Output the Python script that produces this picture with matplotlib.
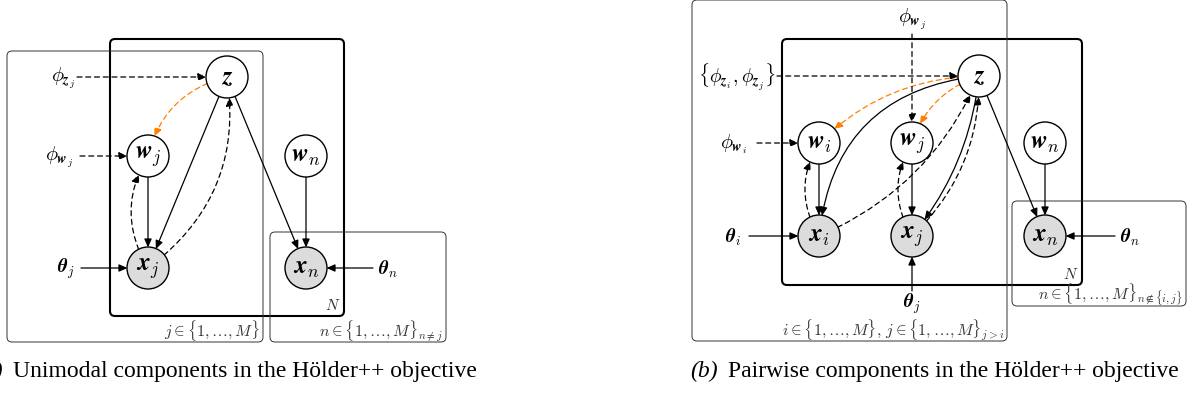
import matplotlib.pyplot as plt
from matplotlib.patches import Circle, FancyArrowPatch, FancyBboxPatch

plt.rcParams['mathtext.fontset'] = 'cm'
plt.rcParams['font.family'] = ['Liberation Serif', 'DejaVu Serif']

# ---- panel (a): nodes, edges, plates ----
a_nodes = ['z', 'wj', 'xj', 'wn', 'xn']
a_labels = [r'$\mathbfit{z}$', r'$\mathbfit{w}_j$', r'$\mathbfit{x}_j$',
            r'$\mathbfit{w}_n$', r'$\mathbfit{x}_n$']
a_observed = [False, False, True, False, True]
a_xy = [(227, 78), (148, 157), (148, 269), (306, 157), (306, 269)]
# (src, dst, dashed, rad, colour)
a_edges = [('z', 'xj', False, 0.0, 'k'), ('z', 'xn', False, 0.0, 'k'),
           ('wj', 'xj', False, 0.0, 'k'), ('wn', 'xn', False, 0.0, 'k'),
           ('xj', 'wj', True, -0.3, 'k'), ('xj', 'z', True, 0.3, 'k'),
           ('z', 'wj', True, 0.3, 'orange')]
# (text, text position, arrow start, target node, dashed)
a_inputs = [(r'$\phi_{\mathbfit{z}_j}$', (63, 78), (77, 78), 'z', True),
            (r'$\phi_{\mathbfit{w}_j}$', (59, 157), (80, 157), 'wj', True),
            (r'$\mathbfit{\theta}_j$', (66, 269), (81, 269), 'xj', False),
            (r'$\mathbfit{\theta}_n$', (388, 269), (373, 269), 'xn', False)]
# (x0, y0, x1, y1, thick, label)
a_plates = [(110, 40, 344, 317, True, r'$N$'),
            (7, 52, 263, 343, False, r'$j \in \{1,\ldots,M\}$'),
            (270, 233, 446, 343, False, r'$n \in \{1,\ldots,M\}_{n\neq j}$')]

# ---- panel (b) ----
b_nodes = ['z', 'wi', 'wj', 'wn', 'xi', 'xj', 'xn']
b_labels = [r'$\mathbfit{z}$', r'$\mathbfit{w}_i$', r'$\mathbfit{w}_j$', r'$\mathbfit{w}_n$',
            r'$\mathbfit{x}_i$', r'$\mathbfit{x}_j$', r'$\mathbfit{x}_n$']
b_observed = [False, False, False, False, True, True, True]
b_xy = [(979, 77), (819, 144), (912, 144), (1045, 144),
        (819, 237), (912, 237), (1045, 237)]
b_edges = [('z', 'xi', False, 0.4, 'k'), ('z', 'xj', False, -0.15, 'k'),
           ('z', 'xn', False, 0.0, 'k'),
           ('wi', 'xi', False, 0.0, 'k'), ('wj', 'xj', False, 0.0, 'k'),
           ('wn', 'xn', False, 0.0, 'k'),
           ('xi', 'wi', True, -0.3, 'k'), ('xj', 'wj', True, -0.3, 'k'),
           ('xi', 'z', True, 0.2, 'k'), ('xj', 'z', True, 0.22, 'k'),
           ('z', 'wi', True, 0.2, 'orange'), ('z', 'wj', True, 0.25, 'orange')]
b_inputs = [(r'$\phi_{\mathbfit{w}_j}$', (912, 19), (912, 35), 'wj', True),
            (r'$\{\phi_{\mathbfit{z}_i},\phi_{\mathbfit{z}_j}\}$', (737, 77), (777, 77), 'z', True),
            (r'$\phi_{\mathbfit{w}_i}$', (733, 144), (757, 144), 'wi', True),
            (r'$\mathbfit{\theta}_i$', (733, 237), (749, 237), 'xi', False),
            (r'$\mathbfit{\theta}_j$', (912, 304), (912, 292), 'xj', False),
            (r'$\mathbfit{\theta}_n$', (1130, 237), (1115, 237), 'xn', False)]
b_plates = [(782, 40, 1082, 286, True, r'$N$'),
            (692, 1, 1007, 342, False, r'$i \in \{1,\ldots,M\},\, j \in \{1,\ldots,M\}_{j>i}$'),
            (1012, 202, 1186, 307, False, r'$n \in \{1,\ldots,M\}_{n\notin\{i,j\}}$')]

W, H = 1189, 406
R = 21
ORANGE = '#ff8000'
fig = plt.figure(figsize=(W / 100, H / 100), dpi=100)
ax = fig.add_axes([0, 0, 1, 1])
ax.set_xlim(0, W)
ax.set_ylim(H, 0)
ax.axis('off')


def draw_panel(names, labels, observed, xy, edges, inputs, plates):
    for x0, y0, x1, y1, thick, lab in plates:
        ax.add_patch(FancyBboxPatch((x0, y0), x1 - x0, y1 - y0,
                                    boxstyle='round,pad=0,rounding_size=5',
                                    fc='none', ec='k' if thick else '#333333',
                                    lw=1.5 if thick else 0.7, zorder=1))
        if lab == r'$N$':
            ax.text(x1 - 4, y1 - 7, lab, ha='right', va='baseline', fontsize=11,
                    color='#333333', zorder=2)
        else:
            ax.text(x1 - 3, y1 - 6, lab, ha='right', va='baseline', fontsize=11.5,
                    color='#333333', zorder=2)
    circ = {}
    for n, lab, obs, (x, y) in zip(names, labels, observed, xy):
        c = Circle((x, y), R, fc='#dcdcdc' if obs else 'white', ec='k', lw=1.0, zorder=4)
        ax.add_patch(c)
        circ[n] = c
        ax.text(x, y, lab, ha='center', va='center', fontsize=18, zorder=5)
    pos = dict(zip(names, xy))
    for s, d, dashed, rad, col in edges:
        col = ORANGE if col == 'orange' else col
        ax.add_patch(FancyArrowPatch(pos[s], pos[d], patchA=circ[s], patchB=circ[d],
                                     connectionstyle=f'arc3,rad={rad}',
                                     arrowstyle='-|>,head_length=0.5,head_width=0.22',
                                     mutation_scale=10, color=col, lw=0.9,
                                     linestyle=(0, (4, 3)) if dashed else '-',
                                     shrinkA=0, shrinkB=0, zorder=3))
    for lab, tp, start, d, dashed in inputs:
        fs = 14.5 if 'phi' in lab else 13.5
        if lab.startswith(r'$\{'):
            fs = 14
        ax.text(tp[0], tp[1], lab, ha='center', va='center', fontsize=fs, zorder=5)
        ax.add_patch(FancyArrowPatch(start, pos[d], patchB=circ[d],
                                     arrowstyle='-|>,head_length=0.5,head_width=0.22',
                                     mutation_scale=10, color='k', lw=0.9,
                                     linestyle=(0, (4, 3)) if dashed else '-',
                                     shrinkA=0, shrinkB=0, zorder=3))


draw_panel(a_nodes, a_labels, a_observed, a_xy, a_edges, a_inputs, a_plates)
draw_panel(b_nodes, b_labels, b_observed, b_xy, b_edges, b_inputs, b_plates)

# captions
ax.text(3, 377, '(a)', style='italic', ha='right', va='baseline', fontsize=17)
ax.text(13, 377, 'Unimodal components in the Hölder++ objective', ha='left',
        va='baseline', fontsize=17)
ax.text(718, 377, '(b)', style='italic', ha='right', va='baseline', fontsize=17)
ax.text(728, 377, 'Pairwise components in the Hölder++ objective', ha='left',
        va='baseline', fontsize=17)

fig.savefig('out.png', dpi=100)
